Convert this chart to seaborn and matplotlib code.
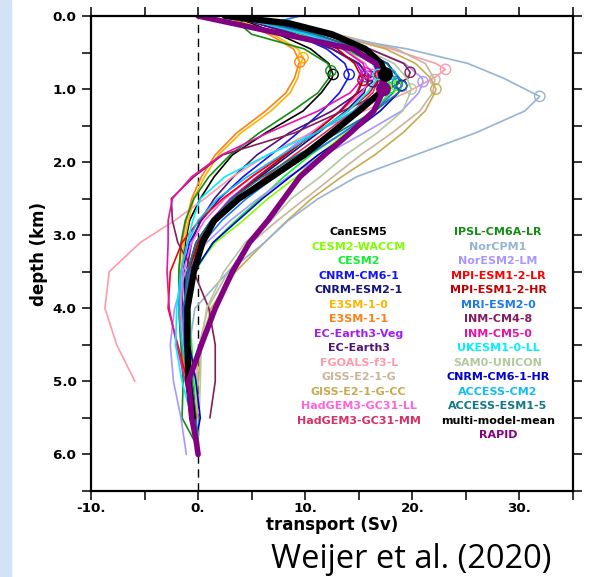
import numpy as np
import pandas as pd
import matplotlib
matplotlib.use("Agg")
import matplotlib.pyplot as plt
from matplotlib.patches import Rectangle
import seaborn as sns

nan = np.nan

# depth levels (km) shared by all profiles
depth_km = [0.0, 0.1, 0.25, 0.45, 0.65, 0.85, 1.05, 1.3, 1.6, 1.9, 2.2,
            2.5, 2.8, 3.1, 3.5, 4.0, 4.5, 5.0, 5.5, 5.8, 6.0]

# overturning transport (Sv) at each depth level
canesm5 = [3.0, 5.0, 7.5, 10.5, 12.2, 12.5, 11.5, 9.8, 6.3, 3.2, 1.5, 0.2, -0.8, -1.2, -1.3, -1.2, -1.0, -0.7, -0.3, nan, nan]
cesm2_waccm = [3.0, 6.0, 10.0, 14.0, 16.8, 18.2, 18.2, 16.5, 13.8, 11.3, 9.2, 6.5, 4.2, 1.6, -0.5, -1.0, -0.8, -0.5, -0.2, nan, nan]
cesm2 = [3.0, 5.5, 9.5, 13.5, 16.5, 17.7, 17.9, 16.4, 13.5, 10.5, 8.0, 5.8, 3.5, 1.4, -0.3, -0.8, -0.6, -0.4, -0.2, nan, nan]
cnrm_cm6_1 = [4.0, 6.0, 9.0, 12.0, 13.7, 14.0, 13.2, 11.6, 9.3, 6.8, 4.2, 2.0, 0.3, -0.8, -1.4, -1.5, -1.2, -0.7, -0.3, -0.1, nan]
cnrm_esm2_1 = [3.0, 5.5, 9.0, 12.5, 15.0, 15.9, 15.5, 13.8, 11.2, 8.5, 5.8, 3.2, 1.2, -0.2, -1.0, -1.3, -1.1, -0.6, -0.2, nan, nan]
e3sm_1_0 = [2.5, 4.5, 7.0, 9.3, 9.6, 9.3, 8.6, 6.8, 4.0, 1.9, 0.6, -0.4, -0.9, -1.3, -1.6, -1.7, -1.5, -1.0, -0.5, -0.2, nan]
e3sm_1_1 = [2.5, 4.2, 6.6, 8.9, 9.4, 9.0, 8.2, 6.3, 3.6, 1.6, 0.3, -0.6, -1.1, -1.5, -1.8, -1.8, -1.6, -1.1, -0.6, nan, nan]
ec_earth3_veg = [3.0, 5.5, 9.0, 12.5, 14.8, 15.4, 14.8, 13.2, 10.8, 8.2, 5.5, 3.0, 1.2, 0.0, -0.8, -1.2, -1.2, -0.8, -0.4, nan, nan]
ec_earth3 = [3.0, 5.5, 9.0, 12.5, 15.0, 16.0, 15.0, 12.5, 8.5, 5.5, 3.3, 1.5, 0.2, -0.6, -1.1, -1.3, -1.0, -0.6, -0.2, nan, nan]
fgoals_f3_l = [4.0, 7.0, 12.0, 18.0, 22.2, 22.0, 19.4, 15.5, 10.5, 6.5, 3.2, 0.6, -2.2, -5.4, -8.3, -8.7, -7.6, -5.9, nan, nan, nan]
giss_e2_1_g = [4.0, 8.0, 13.0, 18.5, 21.2, 22.0, 21.9, 20.7, 18.1, 15.2, 12.6, 10.0, 7.4, 5.0, 2.8, 0.9, 0.1, -0.2, -0.2, nan, nan]
giss_e2_1_g_cc = [4.0, 8.0, 12.5, 17.5, 20.3, 21.7, 22.1, 21.2, 19.1, 16.5, 13.4, 10.6, 8.3, 6.2, 3.5, 1.2, 0.3, 0.0, -0.1, nan, nan]
hadgem3_ll = [3.0, 6.0, 10.0, 13.5, 15.6, 16.1, 15.3, 13.3, 10.5, 7.8, 5.0, 2.5, 0.6, -0.6, -1.4, -1.6, -1.3, -0.8, -0.3, nan, nan]
hadgem3_mm = [3.0, 6.0, 10.5, 14.0, 16.3, 16.9, 16.3, 14.5, 11.8, 9.0, 6.3, 3.8, 1.6, 0.2, -0.8, -1.2, -1.0, -0.6, -0.2, nan, nan]
ipsl_cm6a_lr = [5.0, 3.8, 5.0, 9.9, 12.1, 12.2, 11.2, 8.8, 5.7, 3.0, 1.0, -0.4, -1.2, -1.6, -1.8, -1.8, -1.6, -1.4, -1.5, -0.4, nan]
norcpm1 = [4.0, 7.0, 11.5, 19.5, 25.2, 28.5, 31.2, 30.5, 25.9, 20.3, 14.8, 11.2, 8.4, 6.2, 2.8, -0.3, -0.8, -0.7, -0.4, nan, nan]
noresm2_lm = [4.0, 7.0, 11.0, 16.0, 19.3, 20.9, 20.6, 19.0, 15.5, 11.8, 8.4, 5.6, 3.0, 0.8, -1.2, -2.2, -2.6, -2.3, -1.6, -1.3, -1.1]
mpi_esm1_2_lr = [3.0, 6.0, 10.0, 14.0, 16.3, 16.9, 16.0, 14.0, 11.0, 8.0, 5.0, 2.3, 0.1, -1.5, -2.6, -2.8, -1.9, -1.0, -0.4, -0.1, nan]
mpi_esm1_2_hr = [3.0, 6.0, 10.0, 13.0, 14.6, 15.3, 14.9, 13.3, 10.8, 8.2, 5.6, 3.2, 1.3, 0.0, -0.9, -1.3, -1.2, -0.8, -0.3, nan, nan]
mri_esm2_0 = [9.5, 6.8, 10.0, 14.0, 17.0, 18.4, 18.2, 16.5, 13.5, 10.3, 7.2, 4.5, 2.2, 0.5, -0.8, -1.4, -1.3, -0.9, -0.4, -0.2, nan]
inm_cm4_8 = [4.0, 7.0, 11.5, 16.0, 19.2, 19.6, 17.2, 13.5, 9.0, 2.3, -0.4, -2.5, -2.4, -1.9, -0.4, 1.0, 1.6, 1.6, 1.1, nan, nan]
inm_cm5_0 = [3.0, 6.0, 10.0, 13.5, 15.4, 15.4, 14.2, 11.2, 6.5, 2.2, -0.6, -2.4, -2.8, -2.8, -2.9, -2.7, -2.0, -1.2, -0.5, nan, nan]
ukesm1_0_ll = [3.0, 6.0, 10.0, 14.0, 16.3, 16.7, 15.8, 14.0, 11.0, 6.5, 2.5, 0.2, -0.5, -1.0, -1.6, -2.0, -2.1, -1.5, -0.6, nan, nan]
sam0_unicon = [4.0, 7.0, 11.0, 15.5, 18.3, 19.5, 19.8, 19.1, 16.7, 13.8, 11.4, 8.7, 6.8, 4.4, 2.4, 0.8, 0.3, 0.2, 0.1, 0.0, nan]
cnrm_cm6_1_hr = [4.0, 7.0, 11.0, 15.0, 17.7, 18.7, 18.7, 17.0, 14.3, 11.2, 8.6, 6.0, 3.7, 1.4, -0.4, -1.0, -0.8, -0.2, 0.2, -0.2, nan]
access_cm2 = [3.0, 6.0, 10.5, 14.5, 17.2, 17.9, 16.8, 14.5, 11.0, 7.8, 4.6, 1.8, 0.0, -1.0, -1.6, -1.8, -1.5, -0.9, -0.4, -0.1, nan]
access_esm1_5 = [3.5, 6.5, 11.0, 15.0, 17.6, 18.8, 18.7, 16.5, 13.0, 9.3, 6.0, 3.2, 1.2, -0.2, -1.0, -1.3, -1.1, -0.6, -0.2, 0.0, nan]
multi_model_mean = [2.5, 8.5, 12.5, 15.6, 17.1, 17.4, 17.0, 15.0, 12.5, 9.9, 6.9, 3.8, 1.5, 0.4, -0.4, -1.0, -1.0, -0.9, -0.5, nan, nan]
rapid = [0.0, 3.2, 8.0, 14.4, 16.6, 17.1, 17.2, 16.4, 14.2, 11.8, 9.5, 8.0, 6.5, 4.8, 3.2, 1.6, 0.3, -0.9, -0.6, -0.2, 0.0]

models = ['CanESM5', 'CESM2-WACCM', 'CESM2', 'CNRM-CM6-1', 'CNRM-ESM2-1',
          'E3SM-1-0', 'E3SM-1-1', 'EC-Earth3-Veg', 'EC-Earth3', 'FGOALS-f3-L',
          'GISS-E2-1-G', 'GISS-E2-1-G-CC', 'HadGEM3-GC31-LL', 'HadGEM3-GC31-MM',
          'IPSL-CM6A-LR', 'NorCPM1', 'NorESM2-LM', 'MPI-ESM1-2-LR', 'MPI-ESM1-2-HR',
          'MRI-ESM2-0', 'INM-CM4-8', 'INM-CM5-0', 'UKESM1-0-LL', 'SAM0-UNICON',
          'CNRM-CM6-1-HR', 'ACCESS-CM2', 'ACCESS-ESM1-5', 'multi-model-mean', 'RAPID']

profiles = [canesm5, cesm2_waccm, cesm2, cnrm_cm6_1, cnrm_esm2_1, e3sm_1_0, e3sm_1_1,
            ec_earth3_veg, ec_earth3, fgoals_f3_l, giss_e2_1_g, giss_e2_1_g_cc,
            hadgem3_ll, hadgem3_mm, ipsl_cm6a_lr, norcpm1, noresm2_lm, mpi_esm1_2_lr,
            mpi_esm1_2_hr, mri_esm2_0, inm_cm4_8, inm_cm5_0, ukesm1_0_ll, sam0_unicon,
            cnrm_cm6_1_hr, access_cm2, access_esm1_5, multi_model_mean, rapid]

# maximum of each profile (Sv) and its depth (km)
peak_sv = [12.6, 18.5, 18.0, 14.1, 16.0, 9.8, 9.5, 15.5, 16.3, 23.1, 22.1, 22.2, 16.2, 17.0,
           12.4, 31.9, 21.0, 17.0, 15.4, 18.6, 19.8, 15.7, 16.8, 19.9, 19.0, 18.0, 19.0, 17.5, 17.3]
peak_km = [0.80, 0.95, 0.98, 0.80, 0.82, 0.57, 0.63, 0.83, 0.90, 0.73, 0.87, 1.00, 0.80, 0.80,
           0.75, 1.10, 0.90, 0.80, 0.88, 0.92, 0.77, 0.78, 0.80, 1.00, 0.95, 0.80, 0.96, 0.80, 1.00]

colors = ['#000000', '#80ff00', '#12ee30', '#1414f0', '#14147a', '#ffb400', '#ff8014',
          '#a01ef0', '#501478', '#ff9aaa', '#c8b49a', '#c8aa50', '#ff64dc', '#d23264',
          '#148c14', '#96b4d2', '#aa96ff', '#ff0000', '#c00000', '#1e78f0', '#821e5a',
          '#e614aa', '#00f0ff', '#b4c8a0', '#0000c8', '#14bef0', '#147882', '#000000', '#820082']
palette = dict(zip(models, colors))

# long table: every level plus the peak point of each profile
rows = []
for name, vals, psv, pkm in zip(models, profiles, peak_sv, peak_km):
    for d, v in zip(depth_km, vals):
        if not np.isnan(v):
            rows.append((name, d, v))
    rows.append((name, pkm, psv))
df = pd.DataFrame(rows, columns=['model', 'depth', 'transport'])

sns.set_style('ticks')
plt.rcParams['font.family'] = ['DejaVu Sans']
plt.rcParams['text.color'] = 'black'
plt.rcParams['axes.labelcolor'] = 'black'
plt.rcParams['xtick.color'] = 'black'
plt.rcParams['ytick.color'] = 'black'
plt.rcParams['axes.edgecolor'] = 'black'

fig = plt.figure(figsize=(5.93, 5.77), dpi=100)
fig.patches.append(Rectangle((0, 0), 11 / 593, 1, transform=fig.transFigure,
                             color='#d3e3f3', zorder=0))
ax = fig.add_axes([91 / 593, 1 - 491 / 577, 482 / 593, 475 / 577])

ax.axvline(0, color='black', lw=1.0, ls=(0, (6, 4)), zorder=1)

thin = df[~df['model'].isin(['multi-model-mean', 'RAPID'])]
sns.lineplot(data=thin, x='transport', y='depth', hue='model', hue_order=models[:-2],
             palette=palette, orient='y', estimator=None, sort=True, legend=False,
             linewidth=1.2, ax=ax)
sns.lineplot(data=df[df['model'] == 'multi-model-mean'], x='transport', y='depth',
             color='black', orient='y', estimator=None, sort=True, linewidth=4.6, ax=ax)
sns.lineplot(data=df[df['model'] == 'RAPID'], x='transport', y='depth',
             color=palette['RAPID'], orient='y', estimator=None, sort=True, linewidth=4.0, ax=ax)

# open circles at the maxima, filled dots for mean and RAPID
ax.scatter(peak_sv[:-2], peak_km[:-2], s=55, facecolors='none',
           edgecolors=colors[:-2], linewidths=1.0, zorder=4)
ax.scatter(peak_sv[-2:], peak_km[-2:], s=90, c=colors[-2:], zorder=5)

ax.set_xlim(-10, 35)
ax.set_ylim(6.5, 0)
ax.set_xticks(np.arange(-10, 36, 5))
ax.set_xticklabels(['-10.', '', '0.', '', '10.', '', '20.', '', '30.', ''])
ax.set_yticks(np.arange(0, 6.6, 0.5))
ax.set_yticklabels(['%.1f' % v if v % 1 == 0 and v < 6.5 else '' for v in np.arange(0, 6.6, 0.5)])
ax.tick_params(direction='out', length=6.5, width=1.1, top=True, right=True,
               labelsize=9.7)
ax.tick_params(axis='x', pad=1.5)
ax.tick_params(axis='y', pad=4)
for lab in ax.get_xticklabels() + ax.get_yticklabels():
    lab.set_fontweight('bold')
for sp in ax.spines.values():
    sp.set_visible(True)
    sp.set_linewidth(1.6)

ax.set_xlabel('transport (Sv)', fontsize=12, fontweight='bold', labelpad=1)
ax.set_ylabel('depth (km)', fontsize=12, fontweight='bold', labelpad=3)

# coloured model names in two columns
for i, (name, col) in enumerate(zip(models, colors)):
    column, row = (0, i) if i < 14 else (1, i - 14)
    x = 0.5554 if column == 0 else 0.8444
    y = 1 - (232.3 + 14.48 * row - 16) / 475
    ax.text(x, y, name, color=col, fontsize=8, fontweight='bold',
            ha='center', va='center', transform=ax.transAxes)

fig.text(411.5 / 593, 1 - 568 / 577, 'Weijer et al. (2020)', fontsize=23.5,
         family='Open Sans', ha='center', va='baseline')

fig.savefig('out.png', dpi=100)
